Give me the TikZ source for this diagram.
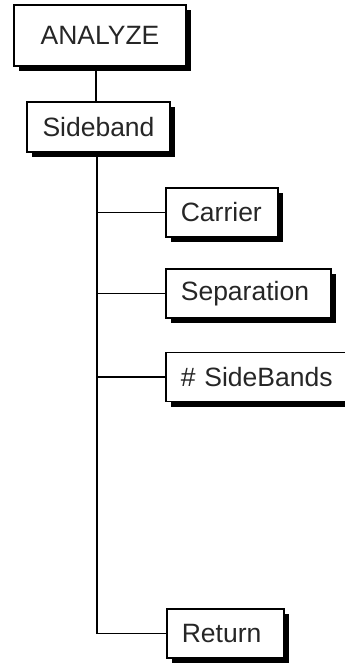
\documentclass[tikz,border=0pt]{standalone}
\usepackage{fontspec}
\setmainfont{Liberation Sans}
\usetikzlibrary{shadows}
\begin{document}
\begin{tikzpicture}[x=1pt,y=1pt,
  box/.style={draw=black, line width=1.7pt, fill=white, rectangle,
    minimum height=49pt, inner xsep=0pt, inner ysep=0pt,
    font=\fontsize{26.5}{31}\selectfont, text=black!85,
    drop shadow={shadow xshift=5pt, shadow yshift=-5pt, opacity=1, fill=black}},
  child/.style={box, anchor=west, align=left, inner xsep=15pt},
  conn/.style={draw=black, line width=1.8pt}]
\useasboundingbox (0,0) rectangle (345,-664);
\clip (0,0) rectangle (345,-664);
\node[box, minimum width=172pt, minimum height=61pt] (an) at (100,-35.5) {ANALYZE};
\node[box, minimum width=143pt, minimum height=50pt] (sb) at (98.5,-127) {Sideband};
\node[child, text width=82pt] (ca) at (165,-212.5) {Carrier};
\node[child, text width=135pt] (se) at (165,-293.5) {Separation};
\node[child, text width=170pt] (ns) at (165,-377) {\# SideBands};
\node[child, text width=87pt] (re) at (166,-633.5) {Return};
\coordinate (a) at (96,0);
\coordinate (t) at (97,0);
\draw[conn] (an.south -| a) -- (sb.north -| a);
\draw[conn] (sb.south -| t) |- (re.west);
\draw[conn] (t |- ca.west) -- (ca.west);
\draw[conn] (t |- se.west) -- (se.west);
\draw[conn] (t |- ns.west) -- (ns.west);
\end{tikzpicture}
\end{document}
